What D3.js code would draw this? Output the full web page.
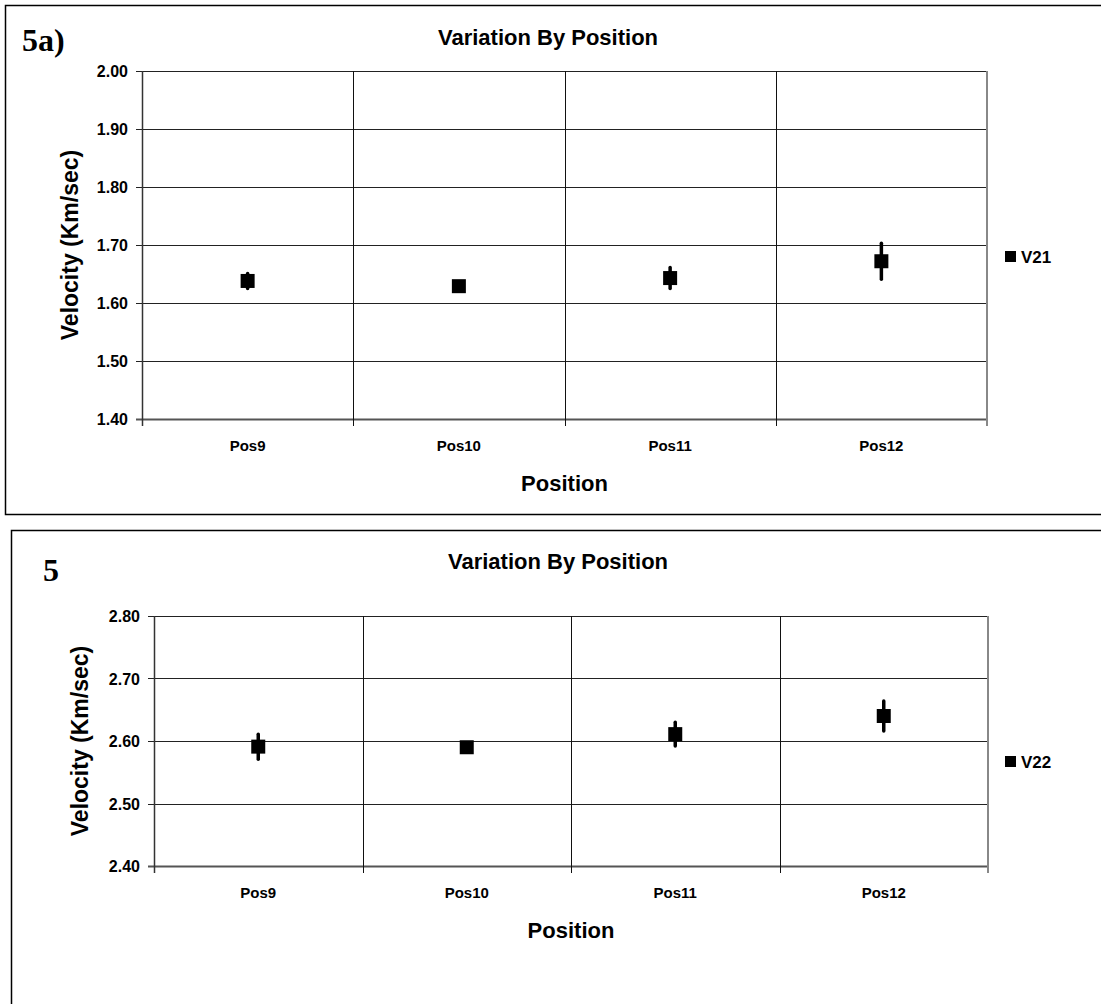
<!DOCTYPE html>
<html>
<head>
<meta charset="utf-8">
<script src="https://cdn.jsdelivr.net/npm/d3@7"></script>
<style>
  body { margin: 0; background: #fff; }
  text { font-family: "Liberation Sans", Arial, sans-serif; font-weight: bold; fill: #000; }
</style>
</head>
<body>
<div id="chart-area"></div>
<script>
var positions = ['Pos9', 'Pos10', 'Pos11', 'Pos12'];
var v21Mean = [1.638, 1.629, 1.643, 1.672];
var v21Err = [0.013, 0, 0.018, 0.031];
var v21Ticks = [1.40, 1.50, 1.60, 1.70, 1.80, 1.90, 2.00];
var v22Mean = [2.591, 2.590, 2.611, 2.640];
var v22Err = [0.020, 0, 0.019, 0.024];
var v22Ticks = [2.40, 2.50, 2.60, 2.70, 2.80];

const svg = d3.select("#chart-area").append("svg")
      .attr("width", 1101)
      .attr("height", 1004)

function drawPanel(opt) {
      const g = svg.append("g")

      // outer frame
      g.append("rect")
            .attr("x", opt.frame.x + 0.5)
            .attr("y", opt.frame.y + 0.5)
            .attr("width", opt.frame.w)
            .attr("height", opt.frame.h)
            .attr("fill", "none")
            .attr("stroke", "#000")
            .attr("stroke-width", 1.5)

      g.append("text")
            .attr("x", opt.tag.x)
            .attr("y", opt.tag.y)
            .style("font-family", "'Liberation Serif', 'Times New Roman', serif")
            .attr("font-size", "32px")
            .text(opt.label)

      g.append("text")
            .attr("x", opt.titleX)
            .attr("y", opt.titleY)
            .attr("font-size", "22px")
            .attr("text-anchor", "middle")
            .text("Variation By Position")

      const x = d3.scaleBand()
            .domain(positions)
            .range([opt.plot.left, opt.plot.right])

      const y = d3.scaleLinear()
            .domain(d3.extent(opt.ticks))
            .range([opt.plot.bottom, opt.plot.top])

      // horizontal grid
      g.append("g")
            .selectAll("line")
            .data(opt.ticks)
            .enter().append("line")
            .attr("x1", opt.plot.left - 6)
            .attr("x2", opt.plot.right)
            .attr("y1", d => Math.round(y(d)) + 0.5)
            .attr("y2", d => Math.round(y(d)) + 0.5)
            .attr("stroke", (d, i) => i == 0 ? "#555" : "#222")
            .attr("stroke-width", (d, i) => i == 0 ? 2 : 1)

      // vertical grid between categories
      g.append("g")
            .selectAll("line")
            .data(positions.slice(1))
            .enter().append("line")
            .attr("x1", d => Math.round(x(d)) + 0.5)
            .attr("x2", d => Math.round(x(d)) + 0.5)
            .attr("y1", opt.plot.top)
            .attr("y2", opt.plot.bottom + 7)
            .attr("stroke", "#111")

      // right border of plot (grey)
      g.append("line")
            .attr("x1", opt.plot.right).attr("x2", opt.plot.right)
            .attr("y1", opt.plot.top).attr("y2", opt.plot.bottom + 7)
            .attr("stroke", "#888").attr("stroke-width", 2)

      // y axis
      g.append("line")
            .attr("x1", opt.plot.left + 0.5).attr("x2", opt.plot.left + 0.5)
            .attr("y1", opt.plot.top).attr("y2", opt.plot.bottom + 7)
            .attr("stroke", "#333").attr("stroke-width", 1.5)

      g.append("g")
            .selectAll("text")
            .data(opt.ticks)
            .enter().append("text")
            .attr("x", opt.plot.left - 14)
            .attr("y", d => y(d) + 6)
            .attr("text-anchor", "end")
            .attr("font-size", "16px")
            .text(d => d.toFixed(2))

      // x labels
      g.append("g")
            .selectAll("text")
            .data(positions)
            .enter().append("text")
            .attr("x", d => x(d) + x.bandwidth() / 2)
            .attr("y", opt.plot.bottom + 32)
            .attr("text-anchor", "middle")
            .attr("font-size", "15px")
            .text(d => d)

      g.append("text")
            .attr("x", (opt.plot.left + opt.plot.right) / 2)
            .attr("y", opt.plot.bottom + 72)
            .attr("text-anchor", "middle")
            .attr("font-size", "22px")
            .text("Position")

      g.append("text")
            .attr("x", -(opt.plot.top + opt.plot.bottom) / 2)
            .attr("y", opt.yLabelX)
            .attr("transform", "rotate(-90)")
            .attr("text-anchor", "middle")
            .attr("font-size", "23px")
            .text("Velocity (Km/sec)")

      // error bars
      const pts = positions.map((p, i) => ({ p: p, m: opt.mean[i], e: opt.err[i] }))
      g.append("g")
            .selectAll("line")
            .data(pts.filter(d => d.e > 0))
            .enter().append("line")
            .attr("x1", d => x(d.p) + x.bandwidth() / 2)
            .attr("x2", d => x(d.p) + x.bandwidth() / 2)
            .attr("y1", d => y(d.m - d.e))
            .attr("y2", d => y(d.m + d.e))
            .attr("stroke", "#000")
            .attr("stroke-width", 3.5)
            .attr("stroke-linecap", "round")

      g.append("g")
            .selectAll("rect")
            .data(pts)
            .enter().append("rect")
            .attr("x", d => x(d.p) + x.bandwidth() / 2 - 7)
            .attr("y", d => y(d.m) - 7)
            .attr("width", 14)
            .attr("height", 14)
            .attr("fill", "#000")

      // legend
      g.append("rect")
            .attr("x", 1005)
            .attr("y", opt.legendY - 6)
            .attr("width", 11)
            .attr("height", 11)
            .attr("fill", "#000")

      g.append("text")
            .attr("x", 1021)
            .attr("y", opt.legendY + 6)
            .attr("font-size", "17px")
            .text(opt.series)
}

drawPanel({
      frame: { x: 5, y: 5, w: 1110, h: 509 },
      tag: { x: 22, y: 51 },
      label: "5a)",
      titleX: 548,
      titleY: 45,
      plot: { left: 142, right: 987, top: 71, bottom: 419 },
      ticks: v21Ticks,
      mean: v21Mean,
      err: v21Err,
      yLabelX: 78,
      legendY: 257,
      series: "V21"
})

drawPanel({
      frame: { x: 11, y: 530, w: 1110, h: 500 },
      tag: { x: 43, y: 581 },
      label: "5",
      titleX: 558,
      titleY: 569,
      plot: { left: 154, right: 988, top: 616, bottom: 866 },
      ticks: v22Ticks,
      mean: v22Mean,
      err: v22Err,
      yLabelX: 88,
      legendY: 762,
      series: "V22"
})
</script>
</body>
</html>
